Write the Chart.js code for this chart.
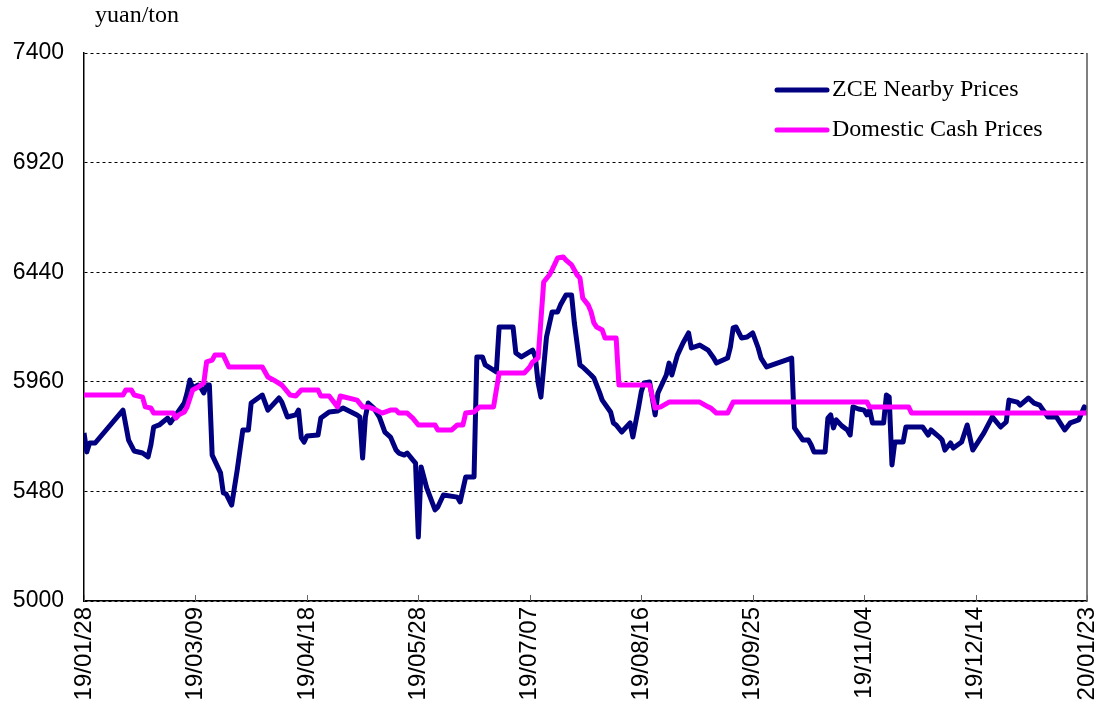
<!DOCTYPE html>
<html>
<head>
<meta charset="utf-8">
<script src="https://cdn.jsdelivr.net/npm/chart.js@4.4.0/dist/chart.umd.min.js"></script>
<style>
body { margin: 0; background: #fff; }
</style>
</head>
<body>
<canvas id="myChart" width="1103" height="705"></canvas>
<script>
// days counted from 19/01/28
var xTickLabels = ['19/01/28', '19/03/09', '19/04/18', '19/05/28', '19/07/07', '19/08/16', '19/09/25', '19/11/04', '19/12/14', '20/01/23'];

var zceDays = [0, 1, 2, 4, 14, 16, 18, 21, 23, 24, 25, 27, 30, 31, 33, 36, 37, 38, 39, 41, 42, 43, 44, 45, 46, 49, 50, 51, 53, 55, 57, 59, 60, 64, 66, 70, 71, 73, 76, 77, 78, 79, 80, 84, 85, 88, 91, 93, 98, 99, 100, 101, 102, 104, 106, 108, 110, 112, 113, 115, 116, 118, 119, 120, 121, 123, 126, 127, 129, 134, 135, 137, 140, 141, 143, 144, 148, 149, 154, 155, 157, 161, 162, 163, 164, 166, 168, 170, 171, 173, 175, 176, 178, 179, 182, 183, 185, 186, 189, 190, 191, 193, 196, 197, 199, 200, 201, 203, 205, 206, 209, 210, 211, 212, 213, 215, 217, 218, 221, 224, 226, 227, 231, 232, 233, 234, 236, 238, 240, 242, 243, 245, 254, 255, 258, 260, 261, 262, 266, 267, 268, 269, 270, 272, 274, 275, 276, 278, 280, 281, 282, 283, 285, 287, 288, 289, 290, 291, 294, 295, 301, 303, 304, 307, 308, 309, 311, 312, 315, 317, 319, 323, 326, 329, 331, 332, 335, 336, 339, 341, 343, 346, 349, 352, 354, 357, 359, 360];
var zceValues = [5736, 5653, 5692, 5692, 5836, 5705, 5657, 5648, 5631, 5683, 5762, 5771, 5801, 5780, 5815, 5867, 5911, 5968, 5933, 5946, 5933, 5911, 5946, 5946, 5639, 5561, 5473, 5469, 5420, 5574, 5749, 5749, 5867, 5902, 5836, 5889, 5871, 5806, 5815, 5836, 5714, 5696, 5723, 5727, 5801, 5828, 5832, 5845, 5815, 5806, 5626, 5806, 5867, 5845, 5806, 5740, 5718, 5661, 5648, 5639, 5648, 5618, 5604, 5280, 5587, 5495, 5399, 5412, 5464, 5455, 5434, 5543, 5543, 6069, 6069, 6034, 6003, 6200, 6200, 6086, 6069, 6099, 6069, 5955, 5893, 6156, 6266, 6266, 6296, 6340, 6340, 6218, 6034, 6025, 5990, 5977, 5915, 5880, 5828, 5780, 5771, 5740, 5780, 5718, 5845, 5915, 5955, 5959, 5815, 5911, 5990, 6042, 5990, 6034, 6077, 6130, 6174, 6108, 6121, 6099, 6064, 6042, 6064, 6112, 6196, 6200, 6152, 6156, 6174, 6108, 6064, 6025, 6064, 5758, 5705, 5705, 5683, 5653, 5653, 5801, 5815, 5758, 5793, 5767, 5749, 5727, 5850, 5841, 5836, 5815, 5836, 5780, 5780, 5780, 5902, 5893, 5596, 5696, 5696, 5762, 5762, 5727, 5749, 5718, 5705, 5661, 5692, 5670, 5696, 5771, 5661, 5736, 5806, 5762, 5784, 5880, 5871, 5858, 5889, 5867, 5858, 5806, 5806, 5749, 5780, 5793, 5850, 5841];

var cashDays = [0, 14, 15, 17, 18, 21, 22, 24, 25, 32, 33, 34, 36, 37, 39, 41, 43, 44, 46, 47, 50, 52, 64, 66, 68, 71, 74, 76, 78, 84, 85, 88, 91, 92, 98, 100, 102, 105, 107, 110, 112, 113, 116, 118, 120, 126, 127, 132, 134, 136, 137, 140, 142, 147, 149, 158, 160, 161, 163, 165, 167, 168, 170, 172, 173, 175, 177, 178, 179, 181, 182, 183, 184, 186, 187, 191, 192, 203, 205, 207, 210, 221, 224, 225, 227, 231, 233, 281, 282, 296, 297, 360];
var cashValues = [5902, 5902, 5924, 5924, 5902, 5893, 5850, 5845, 5823, 5823, 5801, 5815, 5828, 5850, 5924, 5937, 5955, 6047, 6055, 6077, 6077, 6025, 6025, 5981, 5968, 5946, 5902, 5898, 5924, 5924, 5898, 5898, 5850, 5898, 5880, 5850, 5850, 5836, 5823, 5836, 5836, 5823, 5823, 5801, 5771, 5771, 5749, 5749, 5771, 5771, 5823, 5828, 5850, 5850, 5998, 5998, 6025, 6047, 6064, 6397, 6428, 6450, 6502, 6507, 6493, 6472, 6428, 6415, 6327, 6296, 6266, 6218, 6200, 6187, 6152, 6152, 5946, 5946, 5845, 5850, 5871, 5871, 5850, 5845, 5823, 5823, 5871, 5871, 5850, 5850, 5823, 5823];

function toPoints(days, values) {
    var pts = [];
    for (var i in days) {
        pts.push({x: days[i], y: values[i]});
    }
    return pts;
}

var sansFont = '"Liberation Sans", Arial, sans-serif';
var serifFont = '"Liberation Serif", "Times New Roman", serif';

var extras = {
    id: 'extras',
    afterDraw: function(chart) {
        var ctx = chart.ctx;
        var area = chart.chartArea;
        var xs = chart.scales.x;
        ctx.save();

        // right frame line
        ctx.strokeStyle = '#555';
        ctx.lineWidth = 1.5;
        ctx.beginPath();
        ctx.moveTo(area.right, area.top);
        ctx.lineTo(area.right, area.bottom);
        ctx.stroke();

        // tick marks pointing inside
        ctx.strokeStyle = '#666';
        ctx.lineWidth = 1;
        xs.ticks.forEach(function(t) {
            var px = Math.round(xs.getPixelForValue(t.value)) + 0.5;
            ctx.beginPath();
            ctx.moveTo(px, area.bottom);
            ctx.lineTo(px, area.bottom - 6);
            ctx.stroke();
        });

        // unit
        ctx.fillStyle = '#000';
        ctx.font = '24px ' + serifFont;
        ctx.textBaseline = 'middle';
        ctx.textAlign = 'left';
        ctx.fillText('yuan/ton', 95, 16);

        // legend
        ctx.font = '24px ' + serifFont;
        chart.data.datasets.forEach(function(ds, i) {
            var ly = 90 + i * 40;
            ctx.strokeStyle = ds.borderColor;
            ctx.lineWidth = 5;
            ctx.lineCap = 'round';
            ctx.beginPath();
            ctx.moveTo(777, ly);
            ctx.lineTo(827, ly);
            ctx.stroke();
            ctx.fillText(ds.label, 832, ly);
        });
        ctx.restore();
    }
};

var ctx = document.getElementById('myChart').getContext('2d');
var myChart = new Chart(ctx, {
    type: 'line',
    data: {
        datasets: [{
            label: 'ZCE Nearby Prices',
            data: toPoints(zceDays, zceValues),
            borderColor: '#000080',
            borderWidth: 5,
            pointRadius: 0,
            tension: 0,
            borderJoinStyle: 'round',
            fill: false,
            order: 2
        }, {
            label: 'Domestic Cash Prices',
            data: toPoints(cashDays, cashValues),
            borderColor: '#ff00ff',
            borderWidth: 5,
            pointRadius: 0,
            tension: 0,
            borderJoinStyle: 'round',
            fill: false,
            order: 1
        }]
    },
    options: {
        responsive: false,
        animation: false,
        layout: { padding: { top: 53, right: 16, left: 0, bottom: 0 } },
        plugins: {
            legend: { display: false },
            tooltip: { enabled: false }
        },
        scales: {
            x: {
                type: 'linear',
                min: 0,
                max: 360,
                afterFit: function(s) {
                    s.height = 104;
                    s.paddingLeft = 0;
                    s.paddingRight = 0;
                },
                grid: { display: false, drawTicks: false },
                border: { display: true, color: '#000', width: 1.5 },
                ticks: {
                    stepSize: 40,
                    autoSkip: false,
                    minRotation: 90,
                    maxRotation: 90,
                    padding: 6,
                    color: '#000',
                    font: { family: sansFont, size: 24 },
                    callback: function(value) { return xTickLabels[value / 40]; }
                }
            },
            y: {
                min: 5000,
                max: 7400,
                afterFit: function(s) {
                    s.width = 84;
                    s.paddingTop = 0;
                    s.paddingBottom = 0;
                },
                grid: { color: '#000', lineWidth: 1, drawTicks: false },
                border: { display: true, color: '#000', width: 1.5, dash: [3, 3] },
                ticks: {
                    stepSize: 480,
                    padding: 20,
                    color: '#000',
                    font: { family: sansFont, size: 23 },
                    callback: function(value) { return String(value); }
                }
            }
        }
    },
    plugins: [extras]
});
</script>
</body>
</html>
